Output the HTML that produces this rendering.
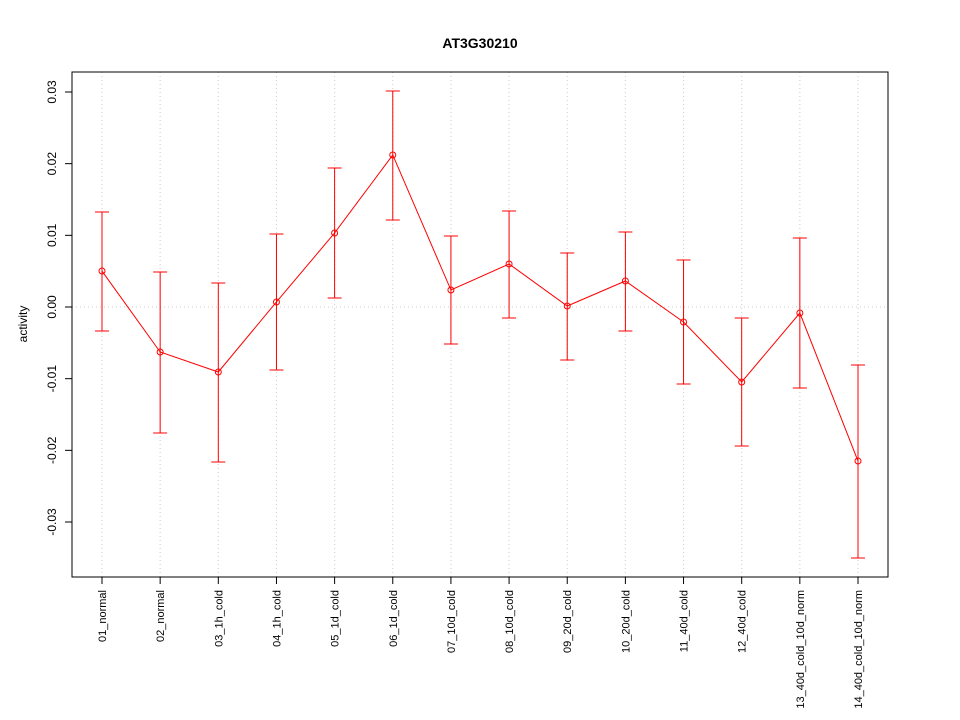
<!DOCTYPE html>
<html><head><meta charset="utf-8"><style>body{margin:0;background:#fff}svg{display:block;font-family:"Liberation Sans",Arial,sans-serif}</style></head>
<body>
<svg id="chart" width="960" height="720">
<text x="480" y="48" text-anchor="middle" font-weight="bold" font-size="14">AT3G30210</text>
<text transform="translate(27,324) rotate(-90)" text-anchor="middle" font-size="12">activity</text>
<g id="grid"></g><g id="axes"></g><g id="marks"></g>
<rect x="72" y="72" width="816" height="505" fill="none" stroke="#000"/>
</svg>
<script>
const categories=["01_normal","02_normal","03_1h_cold","04_1h_cold","05_1d_cold","06_1d_cold","07_10d_cold","08_10d_cold","09_20d_cold","10_20d_cold","11_40d_cold","12_40d_cold","13_40d_cold_10d_norm","14_40d_cold_10d_norm"];
const means=[0.00502,-0.00628,-0.00907,0.0007,0.01033,0.02121,0.00237,0.006,0.00014,0.00363,-0.00209,-0.01046,-0.00084,-0.02149];
const uppers=[0.01326,0.00488,0.00335,0.01019,0.0194,0.03014,0.00991,0.0134,0.00753,0.01047,0.00656,-0.00153,0.00963,-0.00809];
const lowers=[-0.00335,-0.01758,-0.02163,-0.00879,0.00126,0.01214,-0.00516,-0.00153,-0.0074,-0.00335,-0.01074,-0.0194,-0.0113,-0.03502];
const yTicks=[-0.03,-0.02,-0.01,0.00,0.01,0.02,0.03];
const yTickLabels=["-0.03","-0.02","-0.01","0.00","0.01","0.02","0.03"];
const NS="http://www.w3.org/2000/svg";
const X=i=>102+i*(858-102)/(categories.length-1);
const Y=v=>307-v*7167;
function mk(p,t,a){const e=document.createElementNS(NS,t);for(const k in a)e.setAttribute(k,a[k]);p.appendChild(e);return e;}
const grid=document.getElementById('grid'),axes=document.getElementById('axes'),marks=document.getElementById('marks');
categories.forEach((c,i)=>{
 const g=mk(grid,'line',{x1:X(i),x2:X(i),y1:72,y2:577,stroke:'#ccc','stroke-dasharray':'1,3'});
 
 
 const t=mk(axes,'line',{x1:X(i),x2:X(i),y1:577,y2:584,stroke:'#000'});
 
 
 const l=mk(axes,'text',{transform:`translate(${X(i)+4},590) rotate(-90)`,'text-anchor':'end','font-size':'11'});
 l.textContent=c;
 
 
});
const h=mk(grid,'line',{x1:72,x2:888,y1:Y(0),y2:Y(0),stroke:'#ccc','stroke-dasharray':'1,3'});


yTicks.forEach((v,i)=>{
 const t=mk(axes,'line',{x1:65,x2:72,y1:Y(v),y2:Y(v),stroke:'#000'});
 
 
 const l=mk(axes,'text',{transform:`translate(56,${Y(v)}) rotate(-90)`,'text-anchor':'middle','font-size':'12'});
 l.textContent=yTickLabels[i];
 
 
});
const red='#ff0000';
const pl=mk(marks,'polyline',{points:means.map((m,i)=>X(i)+','+Y(m)).join(' '),fill:'none',stroke:red});


means.forEach((m,i)=>{
 const x=X(i);
 const e=mk(marks,'path',{d:`M${x},${Y(uppers[i])}V${Y(lowers[i])}M${x-7},${Y(uppers[i])}H${x+7}M${x-7},${Y(lowers[i])}H${x+7}`,stroke:red,fill:'none'});
 
 
 const c=mk(marks,'circle',{cx:x,cy:Y(m),r:3,fill:'none',stroke:red});
 
 
});
</script>
</body></html>
